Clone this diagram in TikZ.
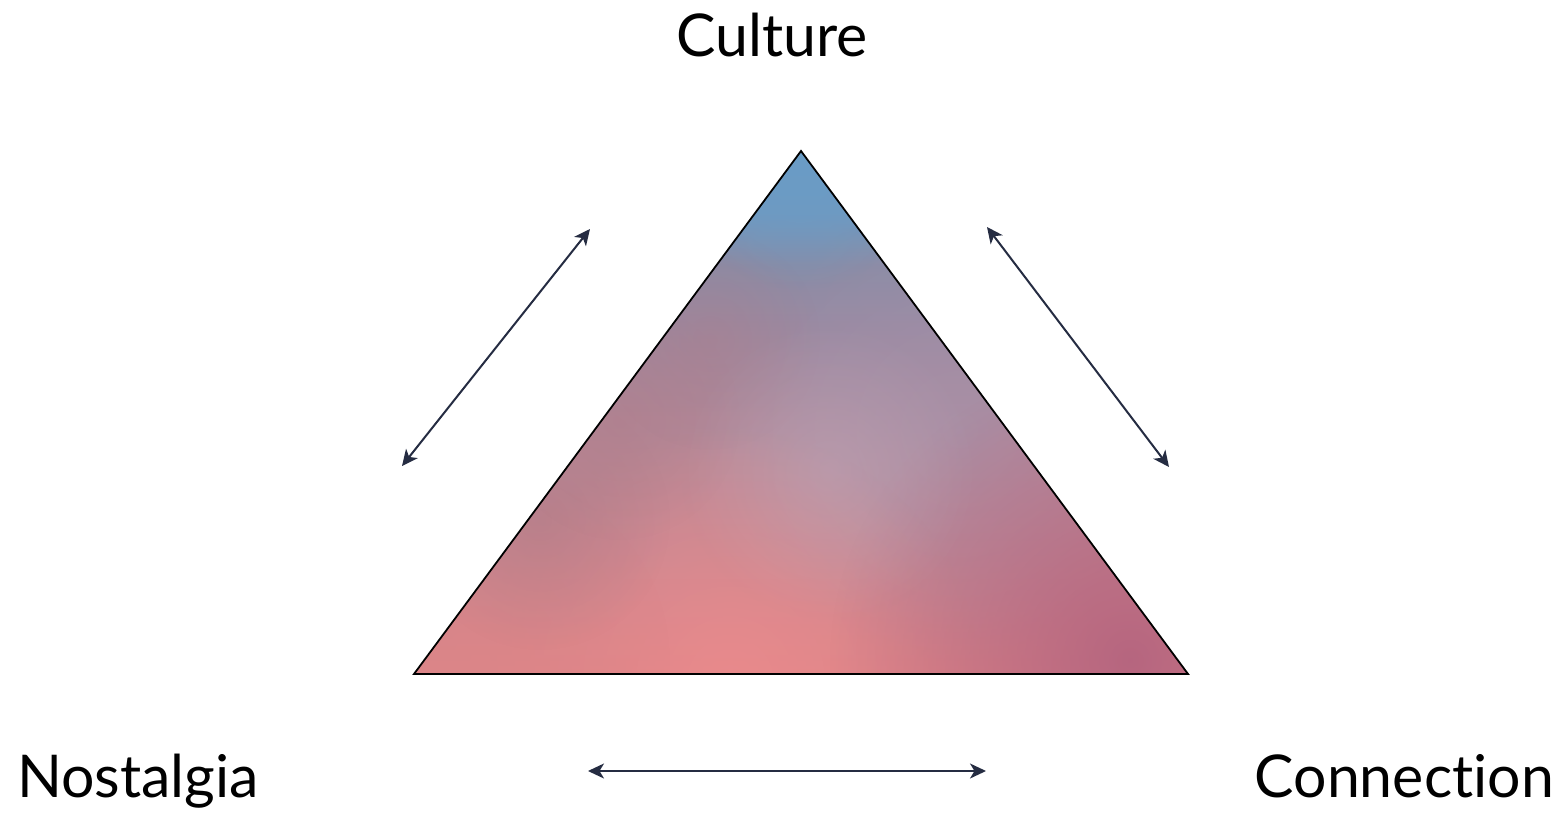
\documentclass[tikz,border=0pt]{standalone}
\usepackage{fontspec}
\setmainfont{Lato}[Ligatures={NoCommon,NoContextual}]
\usetikzlibrary{arrows.meta,fadings,shadings}
\definecolor{topblue}{HTML}{6A9CC6}
\definecolor{greyblue}{HTML}{8A8CA6}
\definecolor{midmauve}{HTML}{9A8AA2}
\definecolor{lowmauve}{HTML}{B98A99}
\definecolor{botpink}{HTML}{DC8588}
\definecolor{brightpink}{HTML}{EC8B8D}
\definecolor{rightmauve}{HTML}{B4647F}
\definecolor{streak}{HTML}{B07A86}
\definecolor{lilac}{HTML}{A493AC}
\definecolor{arrowcol}{HTML}{252C42}
\pgfdeclareverticalshading{trishade}{100bp}{color(0bp)=(botpink); color(25bp)=(botpink); color(36bp)=(lowmauve!60!botpink); color(46bp)=(lowmauve); color(58bp)=(midmauve); color(64bp)=(greyblue); color(69bp)=(topblue!80!greyblue); color(75bp)=(topblue); color(100bp)=(topblue)}
\tikzfading[name=softblob, inner color=transparent!0, outer color=transparent!100]
\tikzset{
  label/.style={font=\fontsize{59}{61}\selectfont, inner sep=0pt, text=black},
  blob/.style={fill=#1, path fading=softblob},
  twoarrow/.style={draw=arrowcol, line width=2pt, {Stealth[length=16pt,width=15pt,inset=4.5pt]}-{Stealth[length=16pt,width=15pt,inset=4.5pt]}},
}
\begin{document}
\begin{tikzpicture}[x=1pt,y=-1pt]
\useasboundingbox (0,0) rectangle (1566,813);
\coordinate (apex) at (801,151);
\coordinate (bl) at (414,674);
\coordinate (br) at (1188,674);
\begin{scope}
  \clip (apex) -- (bl) -- (br) -- cycle;
  \shade[shading=trishade] (414,151) rectangle (1188,674);
  % lilac right middle
  \fill[blob=lilac, opacity=0.6] (960,430) circle (230);
  % bright pink bottom centre
  \fill[blob=brightpink, opacity=0.8] (730,680) circle (250);
  % salmon bottom left
  \fill[blob=botpink, opacity=0.7] (480,660) circle (190);
  % mauve bottom right
  \fill[blob=rightmauve, opacity=0.95] (1130,660) circle (300);
  % reddish diagonal streak on the left
  \fill[blob=streak, opacity=0.55] (540,520) circle (130);
  \fill[blob=streak, opacity=0.5] (620,420) circle (120);
  \fill[blob=streak, opacity=0.4] (710,340) circle (110);
  % lighter lilac centre
  \fill[blob=lilac!70!white, opacity=0.35] (830,470) circle (150);
  % blue apex
  \fill[blob=topblue, opacity=0.7] (800,170) circle (120);
\end{scope}
\draw[black, line width=1.8pt, line join=miter] (apex) -- (bl) -- (br) -- cycle;
\node[label, anchor=base] (culture) at (772,57) {Culture};
\node[label, anchor=base west] (nostalgia) at (17,797) {Nostalgia};
\node[label, anchor=base east] (connection) at (1554,797) {Connection};
\coordinate (a1) at (402,466);
\coordinate (a2) at (590,229);
\coordinate (b1) at (987,227);
\coordinate (b2) at (1169,467);
\coordinate (c1) at (588,771);
\coordinate (c2) at (986,771);
\draw[twoarrow] (a1) -- (a2);
\draw[twoarrow] (b1) -- (b2);
\draw[twoarrow] (c1) -- (c2);
\end{tikzpicture}
\end{document}
